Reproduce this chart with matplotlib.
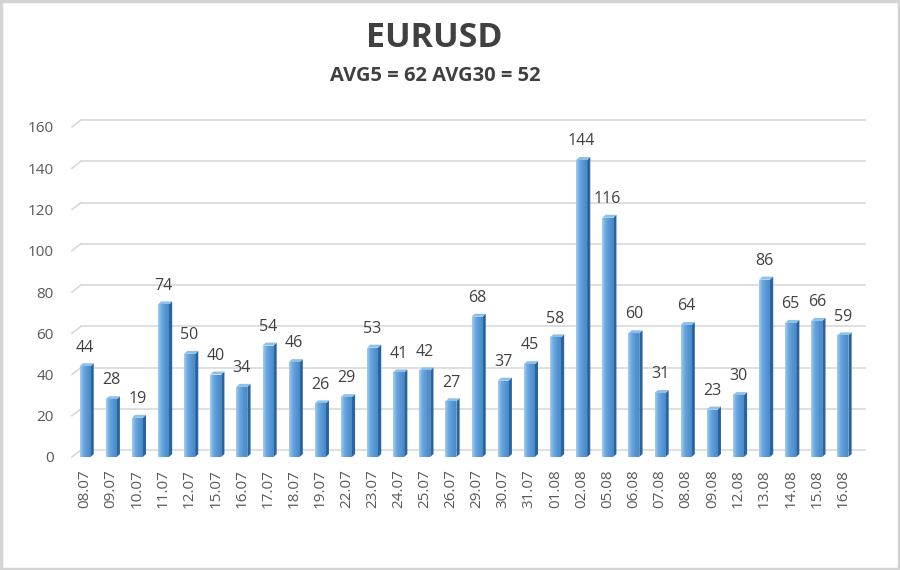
import matplotlib
matplotlib.use("Agg")
import matplotlib.pyplot as plt
import matplotlib.transforms as mtransforms
from matplotlib.patches import Polygon, Rectangle
from matplotlib.colors import LinearSegmentedColormap
import numpy as np

categories = ["08.07", "09.07", "10.07", "11.07", "12.07", "15.07", "16.07", "17.07",
              "18.07", "19.07", "22.07", "23.07", "24.07", "25.07", "26.07", "29.07",
              "30.07", "31.07", "01.08", "02.08", "05.08", "06.08", "07.08", "08.08",
              "09.08", "12.08", "13.08", "14.08", "15.08", "16.08"]
values = [44, 28, 19, 74, 50, 40, 34, 54, 46, 26, 29, 53, 41, 42, 27, 68,
          37, 45, 58, 144, 116, 60, 31, 64, 23, 30, 86, 65, 66, 59]
yticks = [0, 20, 40, 60, 80, 100, 120, 140, 160]
title = "EURUSD"
subtitle = "AVG5 = 62 AVG30 = 52"

plt.rcParams['font.family'] = ['Open Sans', 'DejaVu Sans']

W, H = 900, 570
fig = plt.figure(figsize=(9, 5.7), dpi=100)
fig.patch.set_facecolor("white")

# outer frame
fig.add_artist(Rectangle((0.0015, 0.002), 0.997, 0.996, transform=fig.transFigure,
                         fill=False, edgecolor="#d4d4d4", linewidth=2.5))

left_px, right_px = 72, 856
bot_px, top_px = 457, 127
ax = fig.add_axes([left_px / W, (H - bot_px) / H, (right_px - left_px) / W,
                   (bot_px - top_px) / H])
ax.set_xlim(-0.5, len(values) - 0.5)
ax.set_ylim(0, 160)
for s in ax.spines.values():
    s.set_visible(False)
ax.set_facecolor("none")

# back-wall gridlines with perspective offset
back = mtransforms.offset_copy(ax.transData, fig=fig, x=9, y=7, units='dots')
n = len(values)
for t in yticks:
    ax.plot([-0.5, n - 0.5], [t, t], transform=back, color="#d9d9d9", lw=1.2,
            clip_on=False, zorder=1)
    p0 = ax.transData.transform((-0.5, t))
    p1 = back.transform((-0.5, t))
    ax.plot([p0[0], p1[0]], [p0[1], p1[1]], transform=None, color="#d9d9d9",
            lw=1.2, clip_on=False, zorder=1)

# bars (3D look)
bw = 0.42
px_per_x = (right_px - left_px) / n
px_per_y = (bot_px - top_px) / 160
dx = 3.2 / px_per_x
dy = 3.0 / px_per_y
grad = np.linspace(0, 1, 64).reshape(1, -1)
cmap = LinearSegmentedColormap.from_list("front", ["#a4cdf0", "#6aa7de", "#5596d3", "#4b8ac8"])
xs = np.arange(n)
bars = ax.bar(xs, values, width=bw, color="#5b9bd5", zorder=3, linewidth=0)
for x, v, b in zip(xs, values, bars):
    x0, x1 = x - bw / 2, x + bw / 2
    im = ax.imshow(grad, extent=[x0, x1, 0, v], aspect='auto', cmap=cmap,
                   zorder=3.1, interpolation='bilinear')
    im.set_clip_path(b)
    side = Polygon([(x1, 0), (x1 + dx, dy), (x1 + dx, v + dy), (x1, v)],
                   closed=True, facecolor="#2a649c", edgecolor="none", zorder=3)
    ax.add_patch(side)
    topf = Polygon([(x0, v), (x1, v), (x1 + dx, v + dy), (x0 + dx, v + dy)],
                   closed=True, facecolor="#8ec0ea", edgecolor="none", zorder=3)
    ax.add_patch(topf)
    ax.annotate(str(v), (x, v), xytext=(0, 13.5), textcoords='offset points',
                ha='center', va='center', fontsize=11.5, color="#404040")
ax.set_xlim(-0.5, n - 0.5)
ax.set_ylim(0, 160)

ax.set_yticks(yticks)
ax.set_yticklabels([str(t) for t in yticks], fontsize=11, color="#595959")
ax.set_xticks(xs)
ax.set_xticklabels(categories, rotation=90, fontsize=11, color="#595959")
ax.tick_params(axis='y', length=0, pad=13)
ax.tick_params(axis='x', length=0, pad=9)

fig.text(0.483, 0.933, title, ha='center', va='center', fontsize=24.5,
         fontweight='bold', color="#404040")
fig.text(0.484, 0.866, subtitle, ha='center', va='center', fontsize=14.5,
         fontweight='bold', color="#404040")

fig.savefig("out.png", dpi=100, facecolor="white")
